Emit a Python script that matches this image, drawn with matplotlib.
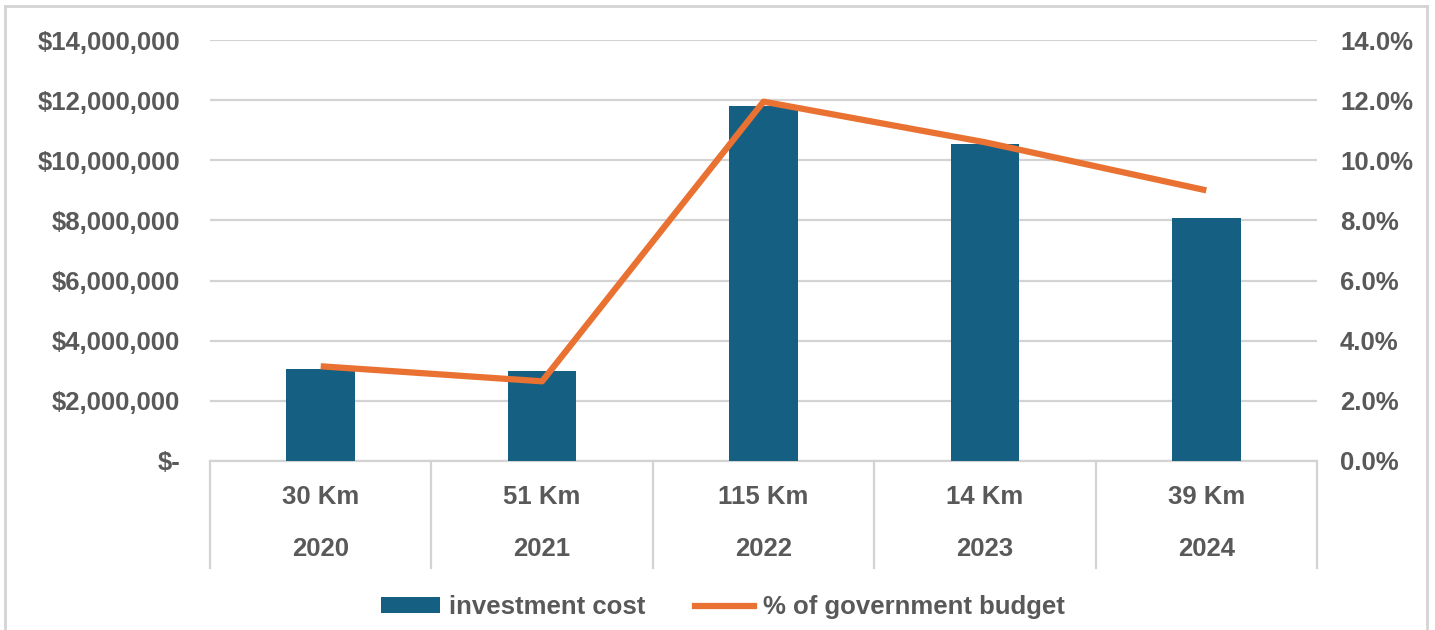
import matplotlib
matplotlib.use("Agg")
import matplotlib.pyplot as plt
from matplotlib.ticker import FuncFormatter, MultipleLocator
from matplotlib.lines import Line2D
from matplotlib.patches import Patch
import numpy as np

years = ["2020", "2021", "2022", "2023", "2024"]
distances = ["30 Km", "51 Km", "115 Km", "14 Km", "39 Km"]
investment_cost = [3050000, 3000000, 11800000, 10550000, 8090000]
budget_pct = [3.15, 2.65, 11.95, 10.6, 9.0]

BLUE = "#156082"
ORANGE = "#E97132"
TXT = "#595959"
GRID = "#D3D3D3"
FONT = "Liberation Sans"
FS = 18.5

plt.rcParams["font.family"] = [FONT, "DejaVu Sans"]

fig = plt.figure(figsize=(14.35, 6.3), dpi=100)
W, H = 1435, 630
ax = fig.add_axes([210 / W, 1 - 461 / H, (1317 - 210) / W, (461 - 40) / H])
ax2 = ax.twinx()

x = np.arange(len(years))
ax.bar(x, investment_cost, width=0.31, color=BLUE, zorder=2)
ax.set_xlim(-0.5, len(years) - 0.5)
ax.set_ylim(0, 14000000)
ax.yaxis.set_major_locator(MultipleLocator(2000000))
ax.yaxis.set_major_formatter(FuncFormatter(lambda v, p: "$-" if v == 0 else f"${v:,.0f}"))
ax.grid(axis="y", color=GRID, linewidth=1.6, zorder=0)
ax.set_axisbelow(True)

ax2.plot(x, budget_pct, color=ORANGE, linewidth=4.5, solid_capstyle="butt", zorder=3)
ax2.set_ylim(0, 14)
ax2.yaxis.set_major_locator(MultipleLocator(2))
ax2.yaxis.set_major_formatter(FuncFormatter(lambda v, p: f"{v:.1f}%"))

for a in (ax, ax2):
    for s in a.spines.values():
        s.set_visible(False)
    a.tick_params(length=0, labelsize=FS, labelcolor=TXT)
    for lab in a.get_yticklabels():
        lab.set_fontweight("bold")
ax.tick_params(axis="y", pad=21.5)
ax2.tick_params(axis="y", pad=16.5)
ax.set_xticks([])

# category axis table
trans = ax.get_xaxis_transform()
ax.plot([-0.5, len(years) - 0.5], [0, 0], color=GRID, linewidth=1.6, transform=trans, clip_on=False, zorder=1)
for b in np.arange(-0.5, len(years), 1.0):
    ax.plot([b, b], [0, -0.254], color=GRID, linewidth=1.6, transform=trans, clip_on=False)
for xi, d, yr in zip(x, distances, years):
    ax.text(xi, -0.0855, d, transform=trans, ha="center", va="center",
            fontsize=FS, fontweight="bold", color=TXT)
    ax.text(xi, -0.209, yr, transform=trans, ha="center", va="center",
            fontsize=FS, fontweight="bold", color=TXT)

handles = [Patch(facecolor=BLUE, edgecolor="none"),
           Line2D([0], [0], color=ORANGE, linewidth=4.5)]
leg = fig.legend(handles, ["investment cost", "% of government budget"],
                 loc="center", bbox_to_anchor=(723 / W, 1 - 607 / H), ncol=2,
                 frameon=False, fontsize=FS, handlelength=2.3, handleheight=0.55,
                 handletextpad=0.35, columnspacing=1.9)
for t in leg.get_texts():
    t.set_color(TXT)
    t.set_fontweight("bold")

# outer frame
frame_col = "#D4D4D4"
fig.add_artist(Line2D([5 / W, 5 / W], [0, 1 - 6 / H], color=frame_col, linewidth=2, transform=fig.transFigure))
fig.add_artist(Line2D([5 / W, 1427 / W], [1 - 6 / H, 1 - 6 / H], color=frame_col, linewidth=2, transform=fig.transFigure))
fig.add_artist(Line2D([1427 / W, 1427 / W], [0, 1 - 6 / H], color=frame_col, linewidth=2, transform=fig.transFigure))

fig.savefig("out.png", dpi=100)
